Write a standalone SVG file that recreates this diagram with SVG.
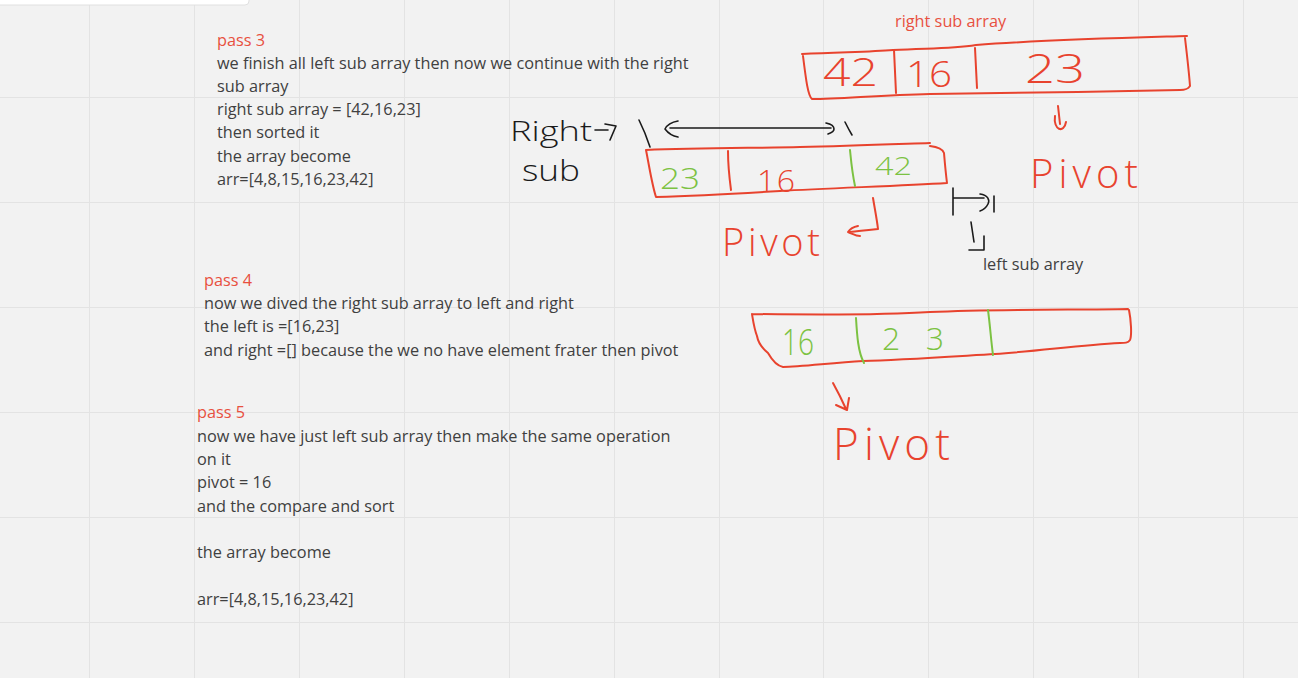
<svg xmlns="http://www.w3.org/2000/svg" width="1298" height="678" viewBox="0 0 1298 678">
<defs>
<style>
.grid line{stroke:#e3e3e3;stroke-width:1}
.t{font-family:"Open Sans","Liberation Sans",sans-serif;font-size:16.3px;fill:#404040}
.h{font-family:"Open Sans","Liberation Sans",sans-serif;font-size:16.3px;fill:#e8503f}
.ink{fill:none;stroke-linecap:round;stroke-linejoin:round;stroke-width:2}
.red{stroke:#e8432e}
.grn{stroke:#7cc242}
.blk{stroke:#1a1a1a;stroke-width:1.6}
.hw{font-family:"Open Sans","Liberation Sans",sans-serif;font-weight:300}
.hr{fill:#e8432e}
.hg{fill:#7cc242}
.hb{fill:#1a1a1a}
</style>
</defs>
<rect width="1298" height="678" fill="#f2f2f2"/>
<g class="grid">
<line x1="89.5" y1="0" x2="89.5" y2="678"/><line x1="194.5" y1="0" x2="194.5" y2="678"/><line x1="299.5" y1="0" x2="299.5" y2="678"/><line x1="404.5" y1="0" x2="404.5" y2="678"/><line x1="509.5" y1="0" x2="509.5" y2="678"/><line x1="614.5" y1="0" x2="614.5" y2="678"/><line x1="719.5" y1="0" x2="719.5" y2="678"/><line x1="823.5" y1="0" x2="823.5" y2="678"/><line x1="928.5" y1="0" x2="928.5" y2="678"/><line x1="1033.5" y1="0" x2="1033.5" y2="678"/><line x1="1138.5" y1="0" x2="1138.5" y2="678"/><line x1="1243.5" y1="0" x2="1243.5" y2="678"/>
<line x1="0" y1="97.5" x2="1298" y2="97.5"/><line x1="0" y1="202.5" x2="1298" y2="202.5"/><line x1="0" y1="307.5" x2="1298" y2="307.5"/><line x1="0" y1="412.5" x2="1298" y2="412.5"/><line x1="0" y1="517.5" x2="1298" y2="517.5"/><line x1="0" y1="622.5" x2="1298" y2="622.5"/>
</g>
<rect x="-10" y="-10" width="259" height="15" rx="4" fill="#ffffff" stroke="#e0e0e0"/>

<g id="pass3">
<text class="h" x="217" y="46">pass 3</text>
<text class="t" x="217" y="69">we finish all left sub array then now we continue with the right</text>
<text class="t" x="217" y="92">sub array</text>
<text class="t" x="217" y="115">right sub array = [42,16,23]</text>
<text class="t" x="217" y="138">then sorted it</text>
<text class="t" x="217" y="162">the array become</text>
<text class="t" x="217" y="185">arr=[4,8,15,16,23,42]</text>
</g>
<g id="pass4">
<text class="h" x="204" y="286">pass 4</text>
<text class="t" x="204" y="309">now we dived the right sub array to left and right</text>
<text class="t" x="204" y="332">the left is =[16,23]</text>
<text class="t" x="204" y="356">and right =[] because the we no have element frater then pivot</text>
</g>
<g id="pass5">
<text class="h" x="197" y="418">pass 5</text>
<text class="t" x="197" y="442">now we have just left sub array then make the same operation</text>
<text class="t" x="197" y="465">on it</text>
<text class="t" x="197" y="488">pivot = 16</text>
<text class="t" x="197" y="512">and the compare and sort</text>
<text class="t" x="197" y="558">the array become</text>
<text class="t" x="197" y="605">arr=[4,8,15,16,23,42]</text>
</g>

<g id="right-sub-array">
<text class="h" x="895" y="27">right sub array</text>
<path class="ink red" d="M802,54 C840,52 870,52 893,50 C930,48 950,49 976,45 C1040,40 1120,38 1187,36 M1185,38 C1187,55 1189,72 1190,86 C1188,89 1186,90 1180,90 C1100,92 1000,93 930,94 C880,95 840,99 812,99 C808,96 806,80 803,56"/>
<path class="ink red" d="M894,50 L896,93 M975,48 L977,88"/>
<text class="hw hr" x="823" y="86" font-size="38" textLength="55" lengthAdjust="spacingAndGlyphs">42</text>
<text class="hw hr" x="906" y="87" font-size="36" textLength="46" lengthAdjust="spacingAndGlyphs">16</text>
<text class="hw hr" x="1025" y="83" font-size="40" textLength="60" lengthAdjust="spacingAndGlyphs">23</text>
<path class="ink red" d="M1058,106 L1060,124 M1055,116 C1053,130 1064,134 1066,122"/>
<text class="hw hr" x="1030" y="188" font-size="40" textLength="108" lengthAdjust="spacing">Pivot</text>
</g>

<g id="right-sub-label">
<text class="hw hb" x="510" y="141" font-size="28" textLength="82" lengthAdjust="spacingAndGlyphs">Right</text>
<text class="hw hb" x="522" y="181" font-size="30" textLength="58" lengthAdjust="spacingAndGlyphs">sub</text>
</g>

<g id="sorted-array">
<path class="ink red" d="M646,150 C700,148 760,148 800,147 C850,146 900,144 930,143 M930,146 C938,147 943,150 944,153 C945,165 946,175 947,183 C900,186 830,188 780,191 C730,194 690,196 656,197 C652,185 649,165 646,150"/>
<path class="ink red" d="M728,151 C728,165 729,175 731,190"/>
<path class="ink grn" d="M850,150 C851,160 852,172 855,186"/>
<text class="hw hg" x="660" y="189" font-size="30" textLength="40" lengthAdjust="spacingAndGlyphs">23</text>
<text class="hw hr" x="757" y="192" font-size="32" textLength="38" lengthAdjust="spacing">16</text>
<text class="hw hg" x="875" y="175" font-size="26" textLength="37" lengthAdjust="spacingAndGlyphs">42</text>
<path class="ink red" d="M873,198 C875,210 877,220 878,229 C868,230 858,231 850,232 M858,226 C853,227 850,229 848,232 C853,234 856,236 860,236"/>
<text class="hw hr" x="722" y="256" font-size="38" textLength="98" lengthAdjust="spacing">Pivot</text>
</g>

<g id="left-sub-array">
<path class="ink blk" d="M953,188 L953,215 M953,198 L984,198 M980,194 C988,195 990,200 988,204 C986,208 983,210 980,211 M994,196 L994,212"/>
<path class="ink blk" d="M971,222 L974,242 M969,250 L984,250 L984,236"/>
<text class="t" x="983" y="270">left sub array</text>
</g>

<g id="left-array">
<path class="ink red" d="M752,314 C830,315 900,314 930,312 C1000,309 1080,310 1128,309 M1129,310 C1131,320 1132,335 1130,340 C1128,343 1125,343 1120,343 C1080,345 1040,351 995,354 C960,356 900,360 863,361 C830,363 800,367 783,367 C778,366 772,360 768,353 C762,348 758,342 757,336 C754,328 753,320 752,314"/>
<path class="ink grn" d="M856,318 C857,335 858,352 864,363 M988,310 C990,325 991,340 993,355"/>
<text class="hw hg" x="782" y="355" font-size="36" textLength="32" lengthAdjust="spacingAndGlyphs">16</text>
<text class="hw hg" x="882" y="350" font-size="32" textLength="62" lengthAdjust="spacing">23</text>
<path class="ink red" d="M833,383 C838,392 842,400 846,409 M836,405 L847,410 L849,398"/>
<text class="hw hr" x="833" y="460" font-size="44" textLength="117" lengthAdjust="spacing">Pivot</text>
</g>

<g id="connectors">
<path class="ink blk" d="M595,130 L608,130 M605,124 L616,126 L610,140"/>
<path class="ink blk" d="M639,120 C643,128 647,138 650,147"/>
<path class="ink blk" d="M670,128 L831,128 M678,121 C672,122 667,125 665,129 C668,133 672,136 678,137 M826,123 C831,124 834,126 834,129 C834,131 831,133 828,134"/>
<path class="ink blk" d="M845,122 C847,126 849,130 852,135"/>
</g>
</svg>
